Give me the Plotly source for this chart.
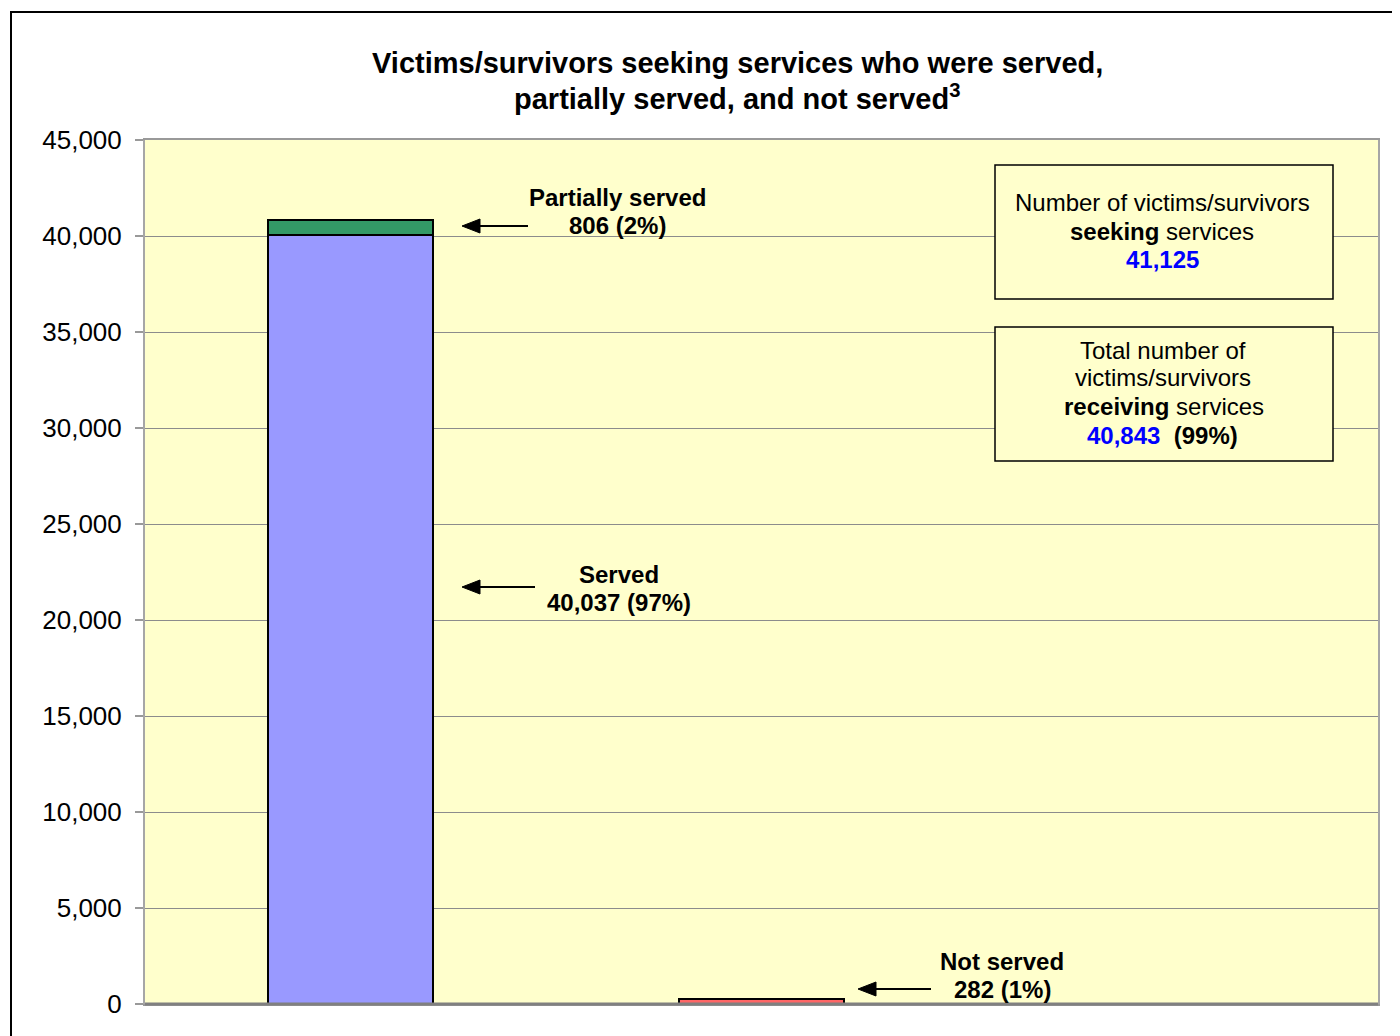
import plotly.graph_objects as go

# ---- data ----
categories = ["Seeking", "Not served", "Summary"]
served = [40037, None, None]
partially_served = [806, None, None]
not_served = [None, 282, None]
seeking_total = 41125
receiving_total = 40843
pct_served = "97%"
pct_partial = "2%"
pct_not = "1%"
pct_receiving = "99%"
y_ticks = [0, 5000, 10000, 15000, 20000, 25000, 30000, 35000, 40000, 45000]

# ---- layout geometry (pixels in the screenshot; page body has an 8px offset) ----
OFF = 8
W, H = 1400 - OFF, 1036 - OFF
PL, PR, PT, PB = 145, 1378, 140, 1004   # plot area in screenshot pixels
ML, MT = PL - OFF, PT - OFF
MR, MB = W - (PR - OFF), H - (PB - OFF)
PW, PH = PR - PL, PB - PT


def px(x):
    return (x - PL) / PW


def py(y):
    return (PB - y) / PH


FONT = "Liberation Sans, Arial, sans-serif"

fig = go.Figure()
fig.add_trace(go.Bar(x=categories, y=served, name="Served",
                     marker=dict(color="#9999FF", line=dict(color="black", width=2))))
fig.add_trace(go.Bar(x=categories, y=partially_served, name="Partially served",
                     marker=dict(color="#339966", line=dict(color="black", width=2))))
fig.add_trace(go.Bar(x=categories, y=not_served, name="Not served",
                     marker=dict(color="#FF6666", line=dict(color="black", width=2))))

shapes = [
    dict(type="rect", xref="paper", yref="paper", x0=px(11), x1=px(1398),
         y0=py(1045), y1=py(12), line=dict(color="black", width=2), fillcolor="rgba(0,0,0,0)"),
    dict(type="rect", xref="paper", yref="paper", x0=px(995), x1=px(1333),
         y0=py(299), y1=py(165), line=dict(color="black", width=1.5), fillcolor="#FFFFCC"),
    dict(type="rect", xref="paper", yref="paper", x0=px(995), x1=px(1333),
         y0=py(461), y1=py(327), line=dict(color="black", width=1.5), fillcolor="#FFFFCC"),
    dict(type="line", xref="paper", yref="paper", x0=0, x1=1, y0=0, y1=0,
         line=dict(color="#808080", width=3)),
]

# arrows (line + filled head)
for head_x, head_y, tail_x in [(462, 226, 528), (462, 587, 535), (858, 989, 931)]:
    shapes.append(dict(type="line", xref="paper", yref="paper",
                       x0=px(head_x + 10), x1=px(tail_x), y0=py(head_y), y1=py(head_y),
                       line=dict(color="black", width=2)))
    path = (f"M {px(head_x)},{py(head_y)} L {px(head_x + 18)},{py(head_y - 7)} "
            f"L {px(head_x + 18)},{py(head_y + 7)} Z")
    shapes.append(dict(type="path", xref="paper", yref="paper", path=path,
                       fillcolor="black", line=dict(color="black", width=1)))

annotations = []


def line(text, cx, cy, size=24):
    annotations.append(dict(xref="paper", yref="paper", x=px(cx), y=py(cy),
                            xanchor="center", yanchor="middle", text=text, showarrow=False,
                            font=dict(family=FONT, size=size, color="black")))


# title
line("<b>Victims/survivors seeking services who were served,</b>", 737, 63, 29)
line("<b>partially served, and not served<sup>3</sup></b>", 737, 97, 29)

# bar labels
line("<b>Partially served</b>", 617, 197)
line(f"<b>{partially_served[0]:,} ({pct_partial})</b>", 617, 225)
line("<b>Served</b>", 619, 574)
line(f"<b>{served[0]:,} ({pct_served})</b>", 619, 602)
line("<b>Not served</b>", 1002, 961)
line(f"<b>{not_served[1]:,} ({pct_not})</b>", 1002, 989)

# info boxes
line("Number of victims/survivors", 1162, 203)
line("<b>seeking</b> services", 1162, 231)
line(f"<b><span style='color:#0000FF'>{seeking_total:,}</span></b>", 1162, 260)
line("Total number of", 1163, 350)
line("victims/survivors", 1163, 378)
line("<b>receiving</b> services", 1164, 406)
line(f"<b><span style='color:#0000FF'>{receiving_total:,}</span>  ({pct_receiving})</b>", 1162, 435)

fig.update_layout(
    width=W, height=H,
    margin=dict(l=ML, r=MR, t=MT, b=MB, autoexpand=False),
    paper_bgcolor="white",
    plot_bgcolor="#FFFFCC",
    barmode="stack",
    bargap=0.6,
    showlegend=False,
    font=dict(family=FONT, color="black"),
    xaxis=dict(type="category", categoryorder="array", categoryarray=categories,
               range=[-0.5, 2.5], showticklabels=False, ticks="", showgrid=False,
               showline=True, linecolor="#999999", linewidth=2, mirror=True, zeroline=False),
    yaxis=dict(range=[0, 45000], tickvals=y_ticks, tickformat=",", showgrid=True,
               gridcolor="#8C8C8C", gridwidth=1, ticks="outside", ticklen=8, tickcolor="#999999",
               tickwidth=1.5, showline=True, linecolor="#A6A6A6", linewidth=2, mirror=True,
               zeroline=False, ticklabelstandoff=8,
               tickfont=dict(family=FONT, size=26, color="black")),
    shapes=shapes,
    annotations=annotations,
)

fig.write_html("out.html")
